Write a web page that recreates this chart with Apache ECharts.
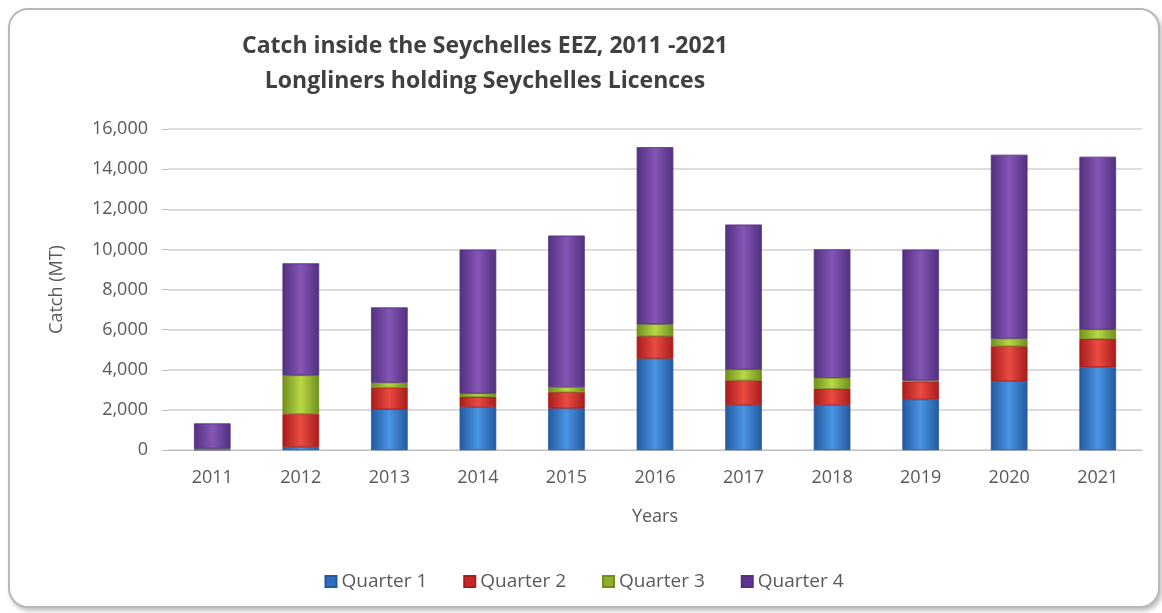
<!DOCTYPE html>
<html>
<head>
<meta charset="utf-8">
<script src="https://cdn.jsdelivr.net/npm/echarts@6/dist/echarts.min.js"></script>
<style>
  html, body { margin: 0; padding: 0; background: #ffffff; }
  #chart {
    position: absolute;
    left: 8px; top: 8px;
    width: 1148px; height: 596px;
    border: 2px solid #b8b8b8;
    border-radius: 20px;
    box-shadow: 2px 3px 4px rgba(0,0,0,0.25);
    background: #ffffff;
  }
</style>
</head>
<body>
<div id="chart"></div>
<script>
// data
const years = ["2011", "2012", "2013", "2014", "2015", "2016", "2017", "2018", "2019", "2020", "2021"];
const quarter1 = [10, 150, 2030, 2140, 2075, 4560, 2240, 2240, 2520, 3430, 4130];
const quarter2 = [20, 1650, 1080, 510, 810, 1110, 1230, 810, 880, 1745, 1410];
const quarter3 = [40, 1920, 250, 170, 250, 600, 545, 550, 70, 380, 465];
const quarter4 = [1250, 5580, 3740, 7165, 7545, 8820, 7215, 6400, 6515, 9155, 8605];
const seriesNames = ["Quarter 1", "Quarter 2", "Quarter 3", "Quarter 4"];

// bevel-like colours (edge, centre)
function bevel(edge, centre) {
  return {
    type: "linear", x: 0, y: 0, x2: 1, y2: 0,
    colorStops: [
      { offset: 0, color: edge },
      { offset: 0.5, color: centre },
      { offset: 1, color: edge }
    ]
  };
}

let myChart = echarts.init(document.getElementById("chart"));
const font = "'Open Sans', 'Liberation Sans', sans-serif";

function bar(name, data, edge, centre) {
  return {
    name: name,
    type: "bar",
    stack: "total",
    data: data,
    barWidth: "41%",
    itemStyle: { color: bevel(edge, centre), borderColor: edge, borderWidth: 0.5 }
  };
}

let options = {
  textStyle: { fontFamily: font },
  title: {
    text: "Catch inside the Seychelles EEZ, 2011 -2021\nLongliners holding Seychelles Licences",
    left: 470,
    top: 14,
    textAlign: "center",
    textStyle: { fontSize: 23, fontWeight: "bold", color: "#404040", lineHeight: 35, fontFamily: font }
  },
  legend: {
    bottom: 10,
    left: "center",
    itemWidth: 11,
    itemHeight: 11,
    itemGap: 36,
    icon: "rect",
    textStyle: { fontSize: 19, color: "#595959", fontFamily: font },
    data: [
      { name: "Quarter 1", itemStyle: { color: "#2f6fbf" } },
      { name: "Quarter 2", itemStyle: { color: "#c8272a" } },
      { name: "Quarter 3", itemStyle: { color: "#8fae2a" } },
      { name: "Quarter 4", itemStyle: { color: "#5c3592" } }
    ]
  },
  grid: { left: 158, right: 16, top: 119, bottom: 156 },
  xAxis: {
    type: "category",
    data: years,
    name: "Years",
    nameLocation: "middle",
    nameGap: 58,
    nameTextStyle: { fontSize: 18, color: "#595959" },
    axisLine: { lineStyle: { color: "#bfbfbf" } },
    axisTick: { show: false },
    axisLabel: { fontSize: 18, color: "#595959", margin: 19 }
  },
  yAxis: {
    type: "value",
    min: 0,
    max: 16000,
    interval: 2000,
    name: "Catch (MT)",
    nameLocation: "middle",
    nameGap: 102,
    nameTextStyle: { fontSize: 18, color: "#595959" },
    axisLine: { show: false },
    axisTick: { show: true, length: 6, lineStyle: { color: "#bfbfbf" } },
    axisLabel: {
      fontSize: 18, color: "#595959", margin: 20,
      formatter: v => v.toLocaleString("en-US")
    },
    splitLine: { lineStyle: { color: "#d0d0d0", width: 1.5 } }
  },
  series: [
    bar(seriesNames[0], quarter1, "#23599e", "#4a95e4"),
    bar(seriesNames[1], quarter2, "#a81c1c", "#ea4b42"),
    bar(seriesNames[2], quarter3, "#6f8f1c", "#b9d845"),
    bar(seriesNames[3], quarter4, "#52307f", "#8456b6")
  ]
};
myChart.setOption(options);
</script>
</body>
</html>
